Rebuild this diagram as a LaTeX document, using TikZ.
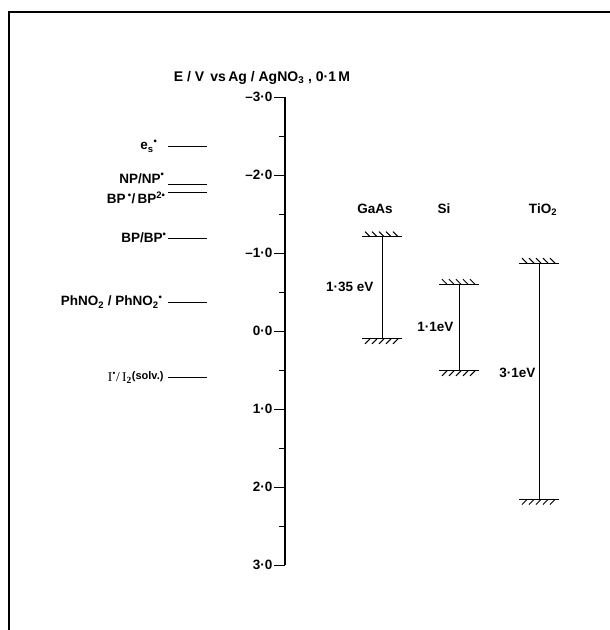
\documentclass[tikz,border=0pt]{standalone}
\usepackage{fontspec}
\setmainfont{Liberation Sans}
\newfontfamily\seriffont{Liberation Serif}
\usetikzlibrary{positioning}

\tikzset{
  level/.style={line width=0.9pt},
  lab/.style={inner sep=1pt},
  ticklab/.style={anchor=east, inner sep=1pt},
  cbhatch/.pic={
    \draw (-20pt,0pt) -- (20pt,0pt);
    \foreach \s in {-17,-10,-3,4,11} \draw (\s pt,5pt) -- ++(5pt,-5pt);
  },
  vbhatch/.pic={
    \draw (-20pt,0pt) -- (20pt,0pt);
    \foreach \s in {-17,-10,-3,4,11} \draw (\s pt,-5pt) -- ++(5pt,5pt);
  }
}

\begin{document}
\begin{tikzpicture}[x=1pt, y=-78pt, line width=1pt,
  font=\fontsize{13.5}{15}\selectfont\bfseries]
\useasboundingbox (0,-4.244) rectangle (610,3.833);
% frame
\coordinate (fbl) at (9,3.833);
\coordinate (ftl) at (9,-4.09);
\coordinate (ftr) at (610,-4.09);
\draw[line width=1.5pt] (fbl) -- (ftl) -- (ftr);

% potential axis
\coordinate (atop) at (285,-3);
\coordinate (abot) at (285,3);
\draw[line width=1.2pt] (atop) -- (abot);
\foreach \v/\t [count=\i] in {-3/{–3·0},-2/{–2·0},-1/{–1·0},0/{0·0},1/{1·0},2/{2·0},3/{3·0}}
  \draw (285,\v) -- (274,\v) node[ticklab] (tick\i) {\t};
\foreach \v in {-2.5,-1.5,...,2.5}
  \draw (285,\v) -- (279,\v);
\node[anchor=base, font=\fontsize{14}{16}\selectfont\bfseries] (title) at (262,-3.205)
  {E\;/\;V\;\,vs\,Ag\;/\;AgNO\textsubscript{3}\;,\;0·1\,M};

% redox levels
\coordinate (esA) at (168,-2.37); \coordinate (esB) at (207,-2.37);
\draw[level] (esA) -- (esB);
\node[lab, left=9pt of esA] (es) {e\textsubscript{s}\textsuperscript{•}};
\coordinate (npA) at (168,-1.88); \coordinate (npB) at (207,-1.88);
\draw[level] (npA) -- (npB);
\node[lab, left=2pt of npA, yshift=6pt] (np) {NP/NP\textsuperscript{•}};
\coordinate (bptA) at (168,-1.78); \coordinate (bptB) at (207,-1.78);
\draw[level] (bptA) -- (bptB);
\node[lab, left=1pt of bptA, yshift=-6pt] (bpt) {BP\,\textsuperscript{•}/\,BP\textsuperscript{2•}};
\coordinate (bpA) at (168,-1.19); \coordinate (bpB) at (207,-1.19);
\draw[level] (bpA) -- (bpB);
\node[lab, left=0pt of bpA] (bp) {BP/BP\textsuperscript{•}};
\coordinate (phA) at (168,-0.37); \coordinate (phB) at (207,-0.37);
\draw[level] (phA) -- (phB);
\node[lab, left=4pt of phA] (ph) {PhNO\textsubscript{2}\;/\;PhNO\textsubscript{2}\textsuperscript{•}};
\coordinate (ioA) at (168,0.6); \coordinate (ioB) at (207,0.6);
\draw[level] (ioA) -- (ioB);
\node[lab, left=3pt of ioA] (io) {{\seriffont\mdseries I\textsuperscript{•}/\,I\textsubscript{\bfseries 2}}\raisebox{2pt}{\fontsize{11}{12}\selectfont(solv.)}};

% semiconductor band edges
\coordinate (gaasCB) at (382,-1.21); \coordinate (gaasVB) at (382,0.10);
\coordinate (siCB) at (459,-0.60); \coordinate (siVB) at (459,0.51);
\coordinate (tioCB) at (539,-0.87); \coordinate (tioVB) at (539,2.16);
\draw (gaasCB) -- (gaasVB);
\draw (siCB) -- (siVB);
\draw (tioCB) -- (tioVB);
\foreach \n in {gaas,si,tio} {
  \pic at (\n CB) {cbhatch};
  \pic at (\n VB) {vbhatch};
}
\node[anchor=base] (gaas) at (375,-1.513) {GaAs};
\node[anchor=base] (si) at (444,-1.513) {Si};
\node[anchor=base] (tio) at (543,-1.513) {TiO\textsubscript{2}};
\node[ticklab] (gaasgap) at (375,-0.56) {1·35 eV};
\node[ticklab] (sigap) at (455,-0.05) {1·1eV};
\node[ticklab] (tiogap) at (537,0.54) {3·1eV};
\end{tikzpicture}
\end{document}
